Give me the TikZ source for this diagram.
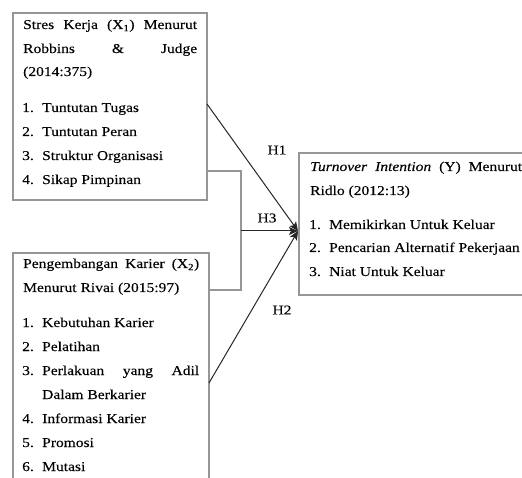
\documentclass[tikz,border=0pt]{standalone}
\usepackage{fontspec}
\setmainfont{Liberation Serif}[FakeStretch=1.15,FakeBold=0.15]
\usetikzlibrary{calc,arrows.meta}
\definecolor{boxgray}{RGB}{150,150,150}
\tikzset{
  box/.style={draw=boxgray, line width=1.1pt, anchor=north west, inner sep=0pt, outer sep=0pt},
  txt/.style={anchor=base west, inner sep=0pt, font=\fontsize{13.5}{16}\selectfont},
  lab/.style={font=\fontsize{13.5}{16}\selectfont, fill=white, inner sep=2pt},
  arr/.style={draw=black!85, line width=1pt, -{Stealth[length=9pt,width=8pt,inset=2pt]}},
  brk/.style={draw=boxgray, line width=1.1pt},
}
\begin{document}
\begin{tikzpicture}[x=1pt,y=-1pt]
\path[use as bounding box] (0,0) rectangle (522,478);
\clip (0,0) rectangle (522,478);
% boxes
\node[box, minimum width=194pt, minimum height=187pt] (b1) at (13,13) {};
\node[box, minimum width=196pt, minimum height=250pt] (b2) at (13,253) {};
\node[box, minimum width=241pt, minimum height=142pt] (by) at (299,153) {};
% box 1 text
\node[txt] (a1) at (23,29) {\makebox[174pt][s]{Stres\hfill Kerja\hfill (X\textsubscript{1})\hfill Menurut}};
\node[txt] (a2) at (23,53) {\makebox[174pt][s]{Robbins\hfill \&\hfill Judge}};
\node[txt] (a3) at (23,76) {(2014:375)};
\node[txt] (a4) at (22,112) {\makebox[20pt][l]{1.}Tuntutan Tugas};
\node[txt] (a5) at (22,136) {\makebox[20pt][l]{2.}Tuntutan Peran};
\node[txt] (a6) at (22,160) {\makebox[20pt][l]{3.}Struktur Organisasi};
\node[txt] (a7) at (22,184) {\makebox[20pt][l]{4.}Sikap Pimpinan};
% box 2 text
\node[txt] (c1) at (23,268) {\makebox[176pt][s]{Pengembangan\hfill Karier\hfill (X\textsubscript{2})}};
\node[txt] (c2) at (23,292) {Menurut Rivai (2015:97)};
\node[txt] (c3) at (22,327) {\makebox[20pt][l]{1.}Kebutuhan Karier};
\node[txt] (c4) at (22,351) {\makebox[20pt][l]{2.}Pelatihan};
\node[txt] (c5) at (22,375) {\makebox[20pt][l]{3.}\makebox[157pt][s]{Perlakuan\hfill yang\hfill Adil}};
\node[txt] (c6) at (42,399) {Dalam Berkarier};
\node[txt] (c7) at (22,423) {\makebox[20pt][l]{4.}Informasi Karier};
\node[txt] (c8) at (22,447) {\makebox[20pt][l]{5.}Promosi};
\node[txt] (c9) at (22,471) {\makebox[20pt][l]{6.}Mutasi};
% Y box text
\node[txt] (d1) at (310,171) {\makebox[212pt][s]{\textit{Turnover}\hfill\textit{Intention}\hfill (Y)\hfill Menurut}};
\node[txt] (d2) at (310,195) {Ridlo (2012:13)};
\node[txt] (d3) at (309,229) {\makebox[20pt][l]{1.}Memikirkan Untuk Keluar};
\node[txt] (d4) at (309,252) {\makebox[20pt][l]{2.}Pencarian Alternatif Pekerjaan};
\node[txt] (d5) at (309,276) {\makebox[20pt][l]{3.}Niat Untuk Keluar};
% connectors
\coordinate (tip) at (298,231);
\coordinate (j3) at (241,231);
\draw[brk] ($(b1.north east)+(0,158)$) -| (j3) |- ($(b2.north east)+(0,37)$);
\draw[arr] ($(b1.north east)+(0,91)$) -- (tip);
\draw[arr] (j3) -- (tip);
\draw[arr] ($(b2.north east)+(0,130)$) -- (tip);
% labels
\node[lab] (h1) at (277,150) {H1};
\node[lab] (h3) at (267,218) {H3};
\node[lab] (h2) at (282,310) {H2};
\end{tikzpicture}
\end{document}
